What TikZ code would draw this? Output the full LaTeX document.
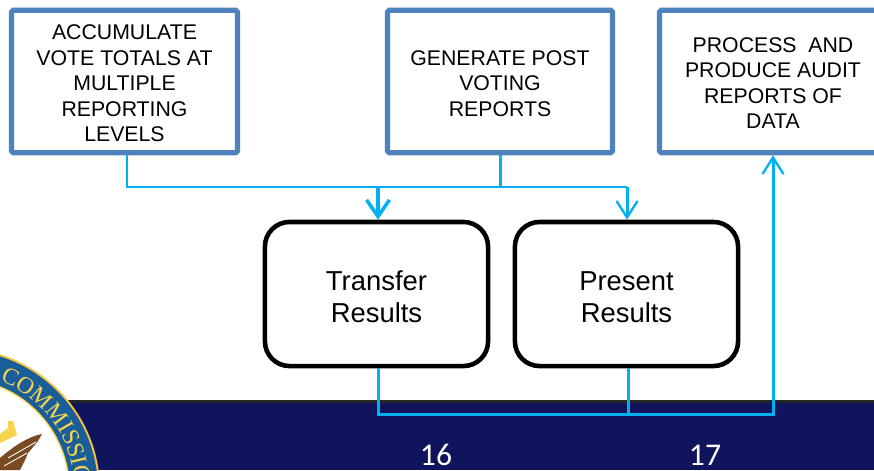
\documentclass[tikz,border=0pt]{standalone}
\usepackage{fontspec}
\setmainfont{Liberation Sans}
\newfontfamily\numfont{Carlito}
\newfontfamily\sealfont{Liberation Serif}
\usetikzlibrary{arrows.meta,decorations.text}
\definecolor{boxblue}{HTML}{4F81BD}
\definecolor{linkcyan}{HTML}{00B0F0}
\definecolor{bandnavy}{HTML}{10145C}
\definecolor{sealblue}{HTML}{1A5E99}
\definecolor{sealgold}{HTML}{F7D44C}
\definecolor{wingbrown}{HTML}{7A4A22}
\newcommand{\tasktop}{\rule{0pt}{10.5pt}}
\newcommand{\steptop}{\rule{0pt}{14pt}}
\tikzset{
  taskbox/.style={draw=boxblue,line width=3pt,fill=white,rounded corners=1pt,align=center,font=\fontsize{12.1}{14.5}\selectfont,inner sep=0pt},
  stepbox/.style={draw=black,line width=2.6pt,fill=white,rounded corners=14pt,align=center,font=\fontsize{15.6}{18.1}\selectfont,inner sep=0pt,minimum width=127pt,minimum height=82pt},
  pagenum/.style={text=white,inner sep=0pt,font=\numfont\fontsize{18}{20}\selectfont},
  link/.style={draw=linkcyan,line width=1.7pt},
  linktip/.style={link,-{Straight Barb[length=9.5pt,width=12pt,line width=1.3pt]}},
  linktipbold/.style={link,line width=2.4pt,-{Straight Barb[length=9.5pt,width=13pt,line width=2pt]}}
}
\begin{document}
\begin{tikzpicture}[x=0.02cm,y=-0.02cm]
\useasboundingbox (0,0) rectangle (874,470);
\clip (0,0) rectangle (874,470);
% footer band
\fill[bandnavy] (0,400) rectangle (874,470);
\fill[black!85] (0,400) rectangle (874,403);
\node[pagenum] (pageA) at (436,455) {16};
\node[pagenum] (pageB) at (705,455) {17};
% seal
\fill[sealgold!80!orange] (-42,490) circle (142);
\fill[sealblue] (-42,490) circle (140);
\fill[sealgold] (-42,490) circle (112);
\fill[white] (-42,490) circle (110.5);
\path[decorate,decoration={text along path,text color=sealgold,
  text={|\sealfont\fontsize{13.5}{14}\selectfont|COMMISSIO}}]
  (-42,490) ++(-69:117) arc[start angle=-69,end angle=8,radius=117];
\fill[sealgold] (0,434) -- (8,428) -- (8,421) -- (13,421) -- (15,428) -- (17,435) -- (0,443) -- cycle;
\fill[wingbrown] (42,434) .. controls (30,436) and (15,445) .. (0,458) -- (0,470) -- (20,470) -- (25,460) -- (28,453) -- (38,441) -- cycle;
\draw[white,line width=0.5pt] (36,442) -- (8,458);
\draw[white,line width=0.5pt] (27,453) -- (4,466);
% task boxes
\node[taskbox,minimum width=128.7pt,minimum height=81pt] (accum) at (124.5,81.5) {\tasktop ACCUMULATE\\VOTE TOTALS AT\\MULTIPLE\\REPORTING\\LEVELS};
\node[taskbox,minimum width=128.1pt,minimum height=81pt] (report) at (500,81.5) {\tasktop GENERATE POST\\VOTING\\REPORTS};
\node[taskbox,minimum width=129.2pt,minimum height=81pt] (audit) at (773,81.5) {\tasktop PROCESS\ \ AND\\PRODUCE AUDIT\\REPORTS OF\\DATA};
% step boxes
\node[stepbox] (transfer) at (376.5,294) {\steptop Transfer\\Results};
\node[stepbox] (present) at (626.5,294) {\steptop Present\\Results};
% connectors
\coordinate (busL) at (127,187);
\coordinate (busM) at (500,187);
\coordinate (busT) at (378,187);
\coordinate (busP) at (627,187);
\coordinate (busB) at (378,414);
\coordinate (busC) at (628,414);
\coordinate (busR) at (773,414);
\draw[link] (accum.south -| busL) -- (busL) -- (busT);
\draw[link] (report.south) -- (busM);
\draw[link] (busT) -- (busP);
\draw[linktipbold] (busT) -- (transfer.north -| busT);
\draw[linktip] (busP) -- (present.north -| busP);
\draw[link] (transfer.south -| busB) -- (busB) -- (busC);
\draw[link] (present.south -| busC) -- (busC);
\draw[linktip] (busC) -- (busR) -- (audit.south);
\end{tikzpicture}
\end{document}
